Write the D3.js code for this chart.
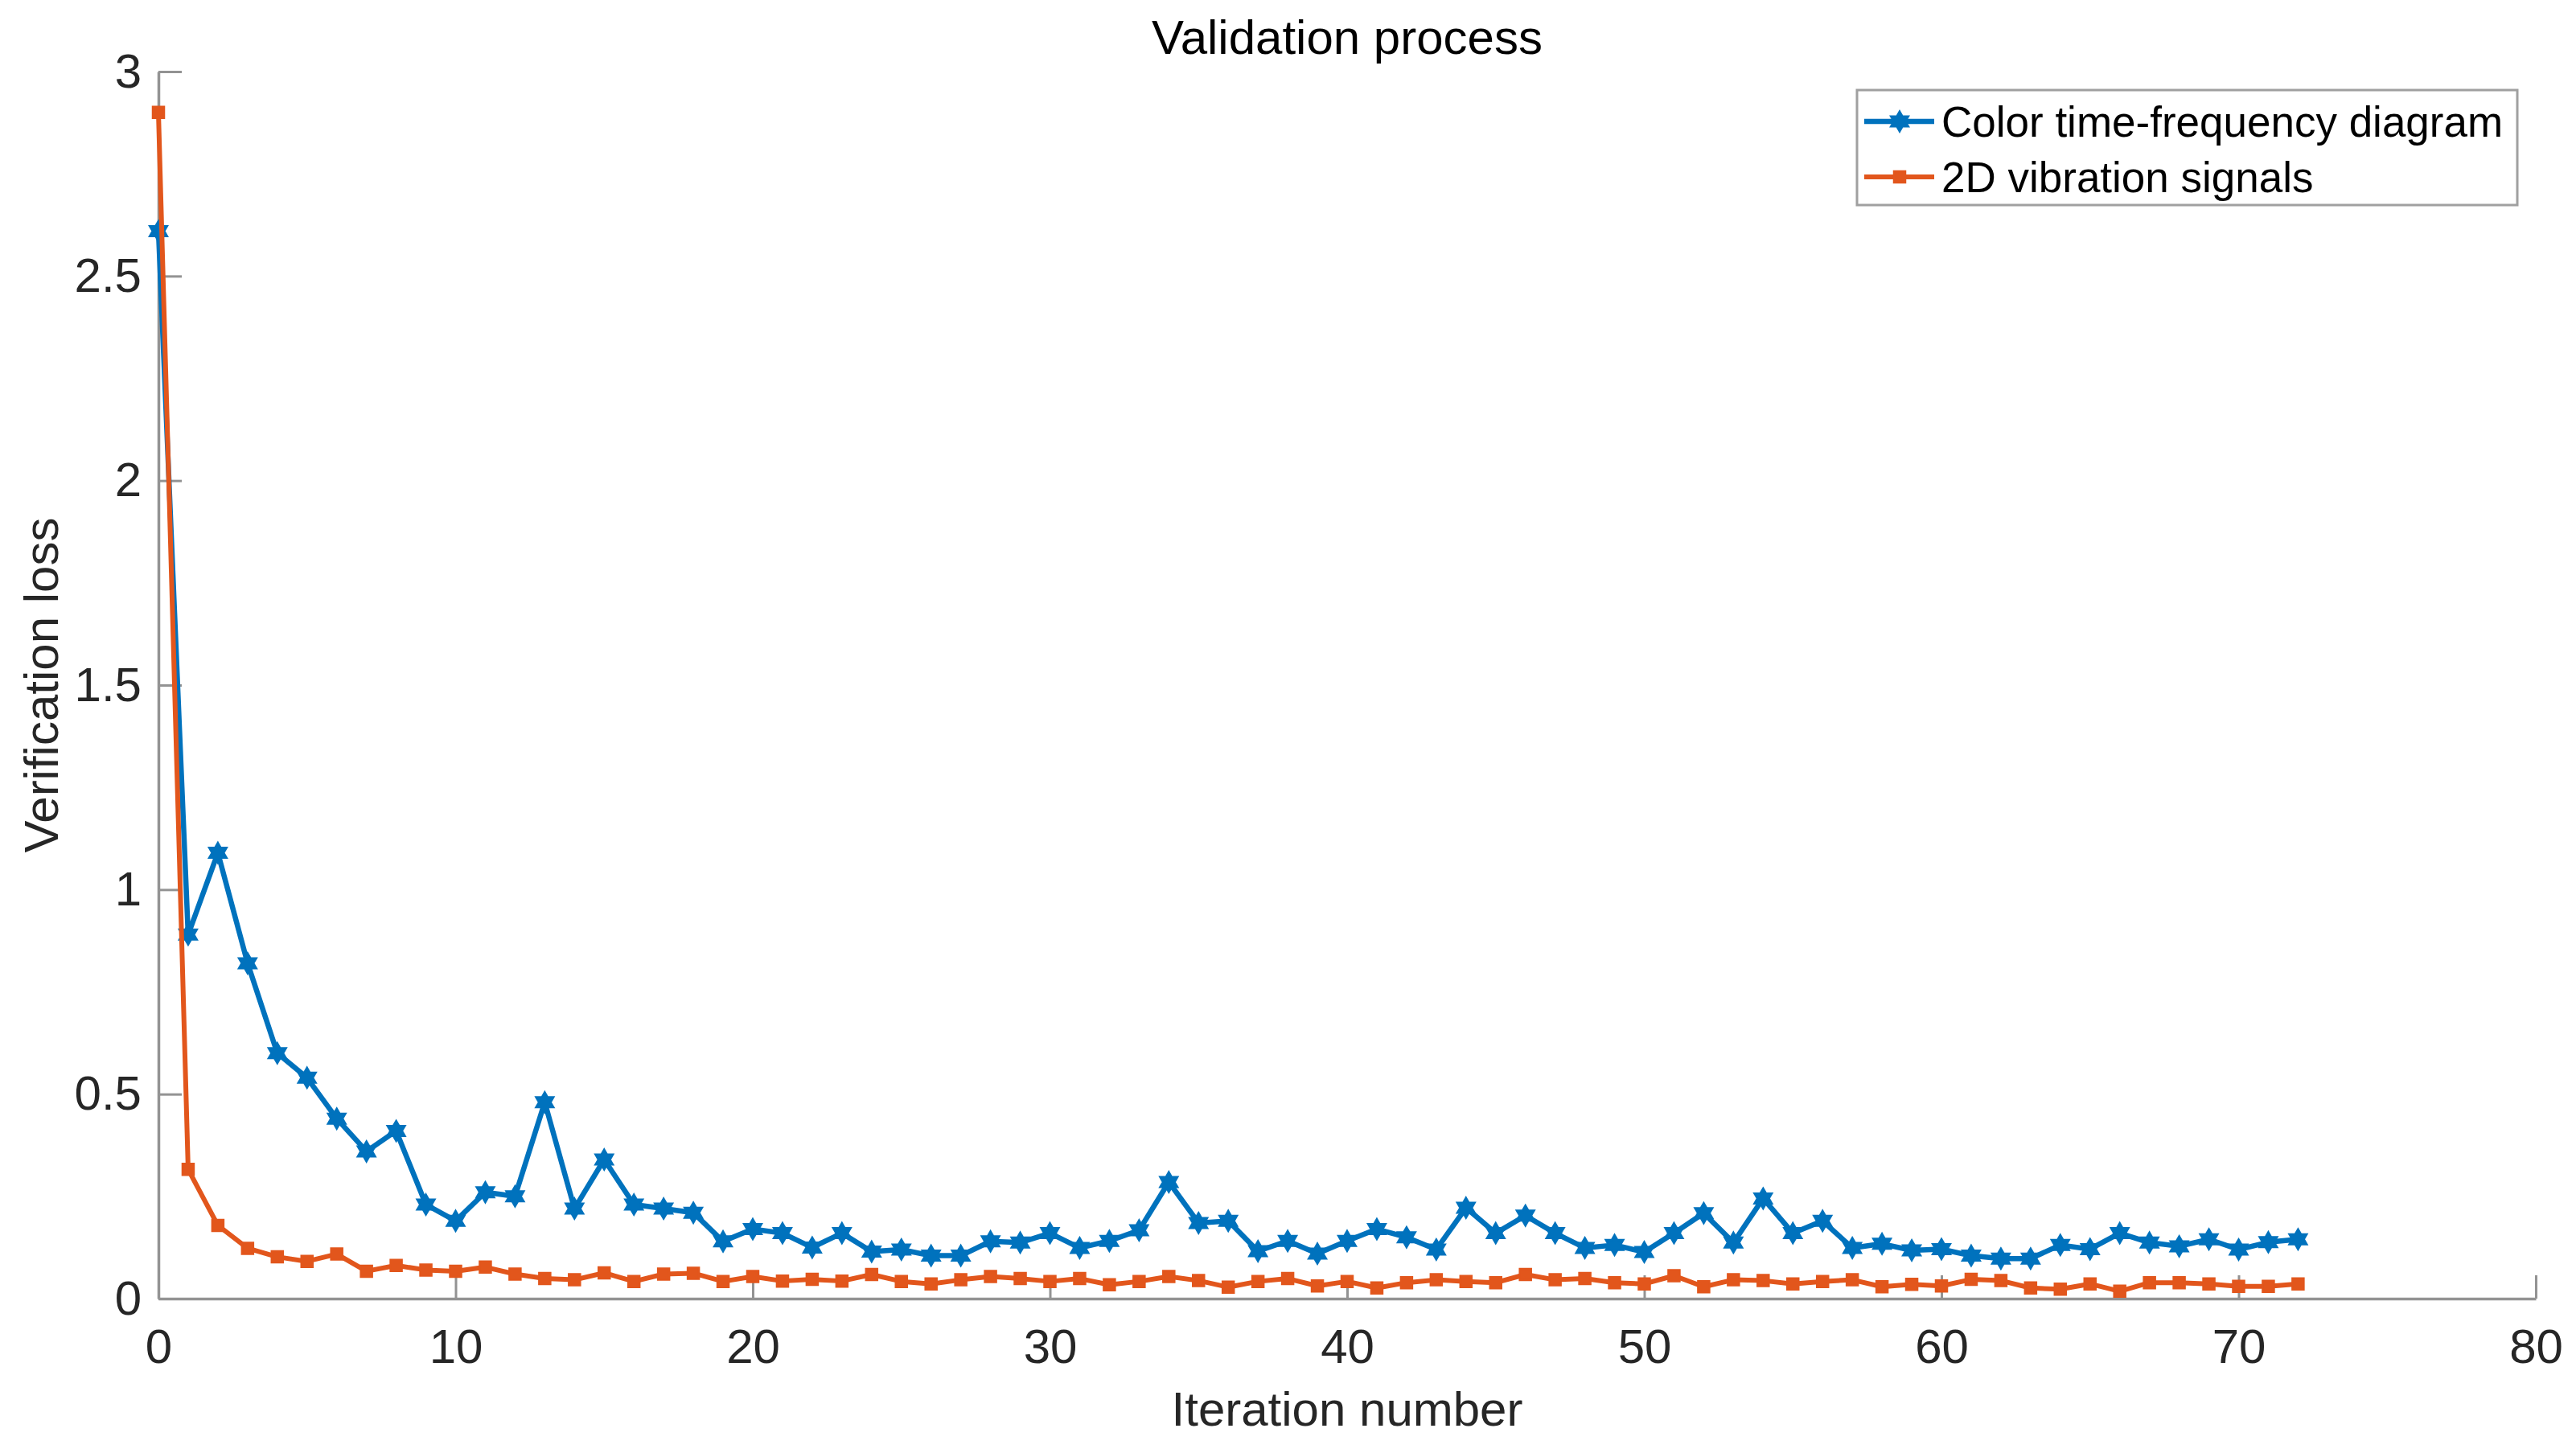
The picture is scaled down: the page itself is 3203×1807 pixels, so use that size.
<!DOCTYPE html>
<html>
<head>
<meta charset="utf-8">
<script src="https://cdn.jsdelivr.net/npm/d3@7"></script>
<style>
  html, body { margin: 0; padding: 0; background: #fff; }
  svg { display: block; }
  text { font-family: "Liberation Sans", Arial, Helvetica, sans-serif; }
</style>
</head>
<body>
<svg id="chart" width="3203" height="1807"></svg>
<script>
// ---- data ----
const iterations = d3.range(0, 73);
const colorTF = [
  2.61, 0.89, 1.09, 0.82, 0.60, 0.54, 0.44, 0.36, 0.41, 0.23,
  0.19, 0.26, 0.25, 0.48, 0.22, 0.34, 0.23, 0.22, 0.21, 0.14,
  0.17, 0.16, 0.125, 0.16, 0.115, 0.12, 0.105, 0.105, 0.14, 0.137,
  0.16, 0.124, 0.141, 0.167, 0.285, 0.185, 0.19, 0.116, 0.141, 0.11,
  0.141, 0.17, 0.15, 0.12, 0.222, 0.16, 0.203, 0.16, 0.124, 0.131,
  0.114, 0.16, 0.209, 0.137, 0.245, 0.16, 0.19, 0.124, 0.134, 0.118,
  0.121, 0.105, 0.098, 0.098, 0.131, 0.121, 0.16, 0.137, 0.128, 0.145,
  0.12, 0.138, 0.145
];
const vib2D = [
  2.90, 0.316, 0.179, 0.123, 0.102, 0.091, 0.109, 0.067, 0.081, 0.07,
  0.067, 0.077, 0.06, 0.049, 0.046, 0.063, 0.042, 0.06, 0.062, 0.042,
  0.054, 0.043, 0.047, 0.043, 0.059, 0.042, 0.036, 0.046, 0.054, 0.049,
  0.042, 0.049, 0.034, 0.042, 0.054, 0.044, 0.028, 0.042, 0.049, 0.031,
  0.042, 0.026, 0.039, 0.046, 0.042, 0.039, 0.059, 0.046, 0.049, 0.039,
  0.036, 0.056, 0.029, 0.046, 0.044, 0.036, 0.042, 0.046, 0.029, 0.035,
  0.031, 0.047, 0.044, 0.026, 0.023, 0.036, 0.018, 0.039, 0.039, 0.036,
  0.03, 0.03, 0.036
];
const seriesNames = ["Color time-frequency diagram", "2D vibration signals"];
const seriesColors = ["#0072BD", "#E2561C"];
const xTicks = [0, 10, 20, 30, 40, 50, 60, 70, 80];
const yTicks = [0, 0.5, 1, 1.5, 2, 2.5, 3];
const titleText = "Validation process";
const xLabelText = "Iteration number";
const yLabelText = "Verification loss";

(function () {
// ---- layout ----
const plotLeft = 197, plotRight = 3153, plotTop = 89, plotBottom = 1615;
const svg = d3.select("#chart");

const x = d3.scaleLinear().domain([0, 80]).range([plotLeft, plotRight]);
const y = d3.scaleLinear().domain([0, 3]).range([plotBottom, plotTop]);

const axisColor = "#939393";
const labelColor = "#262626";

// axes
const gx = svg.append("g").attr("transform", `translate(0,${plotBottom})`)
  .call(d3.axisBottom(x).tickValues(xTicks).tickFormat(d3.format("d"))
    .tickSizeInner(-29).tickSizeOuter(0).tickPadding(37));
const gy = svg.append("g").attr("transform", `translate(${plotLeft},0)`)
  .call(d3.axisLeft(y).tickValues(yTicks).tickFormat(d => String(d))
    .tickSizeInner(-29).tickSizeOuter(0).tickPadding(21));
[gx, gy].forEach(g => {
  g.select(".domain").attr("stroke", axisColor).attr("stroke-width", 3.5);
  g.selectAll(".tick line").attr("stroke", axisColor).attr("stroke-width", 3);
  g.selectAll(".tick text").attr("fill", labelColor)
    .style("font-size", "60px").style("font-family", "'Liberation Sans', Arial, sans-serif");
});

// hexagram symbol
const hexagram = {
  draw(context, size) {
    const R = Math.sqrt(size);
    const r = R / Math.sqrt(3);
    for (let i = 0; i < 12; i++) {
      const a = -Math.PI / 2 + i * Math.PI / 6;
      const rad = i % 2 === 0 ? R : r;
      const px = rad * Math.cos(a), py = rad * Math.sin(a);
      if (i === 0) context.moveTo(px, py); else context.lineTo(px, py);
    }
    context.closePath();
  }
};
const square = {
  draw(context, size) {
    const s = Math.sqrt(size) / 2;
    context.rect(-s, -s, 2 * s, 2 * s);
  }
};

const line = d3.line().x(d => x(d[0])).y(d => y(d[1]));
const seriesData = [colorTF, vib2D].map(arr => iterations.map((it, i) => [it, arr[i]]));
const markerTypes = [hexagram, square];
const markerSizes = [12.5 * 12.5, 14 * 14];
const lineWidths = [6.5, 6];
const markerStroke = [2.5, 2.5];

seriesData.forEach((data, si) => {
  const g = svg.append("g");
  g.append("path").datum(data)
    .attr("fill", "none").attr("stroke", seriesColors[si])
    .attr("stroke-width", lineWidths[si]).attr("stroke-linejoin", "round")
    .attr("d", line);
  g.selectAll("path.m").data(data).join("path").attr("class", "m")
    .attr("transform", d => `translate(${x(d[0])},${y(d[1])})`)
    .attr("d", d3.symbol().type(markerTypes[si]).size(markerSizes[si]))
    .attr("fill", seriesColors[si]).attr("stroke", seriesColors[si])
    .attr("stroke-width", markerStroke[si]).attr("stroke-linejoin", "miter");
});

// title and labels
svg.append("text").attr("x", (plotLeft + plotRight) / 2).attr("y", 67)
  .attr("text-anchor", "middle").attr("fill", "#000").style("font-size", "60px")
  .text(titleText);
svg.append("text").attr("x", (plotLeft + plotRight) / 2).attr("y", 1773)
  .attr("text-anchor", "middle").attr("fill", labelColor).style("font-size", "60px")
  .text(xLabelText);
svg.append("text").attr("transform", `translate(72,${(plotTop + plotBottom) / 2}) rotate(-90)`)
  .attr("text-anchor", "middle").attr("fill", labelColor).style("font-size", "60px")
  .text(yLabelText);

// legend
const lg = svg.append("g");
lg.append("rect").attr("x", 2309).attr("y", 112).attr("width", 3130 - 2309).attr("height", 255 - 112)
  .attr("fill", "#fff").attr("stroke", "#a0a0a0").attr("stroke-width", 3);
const rowsY = [151, 220];
seriesNames.forEach((name, si) => {
  const ry = rowsY[si];
  lg.append("line").attr("x1", 2318).attr("x2", 2405).attr("y1", ry).attr("y2", ry)
    .attr("stroke", seriesColors[si]).attr("stroke-width", lineWidths[si]);
  lg.append("path").attr("transform", `translate(2362,${ry})`)
    .attr("d", d3.symbol().type(markerTypes[si]).size(markerSizes[si]))
    .attr("fill", seriesColors[si]).attr("stroke", seriesColors[si]).attr("stroke-width", markerStroke[si]);
  lg.append("text").attr("x", 2414).attr("y", ry).attr("dy", "0.35em")
    .attr("fill", "#000").style("font-size", "53px").text(name);
});
})();
</script>
</body>
</html>
